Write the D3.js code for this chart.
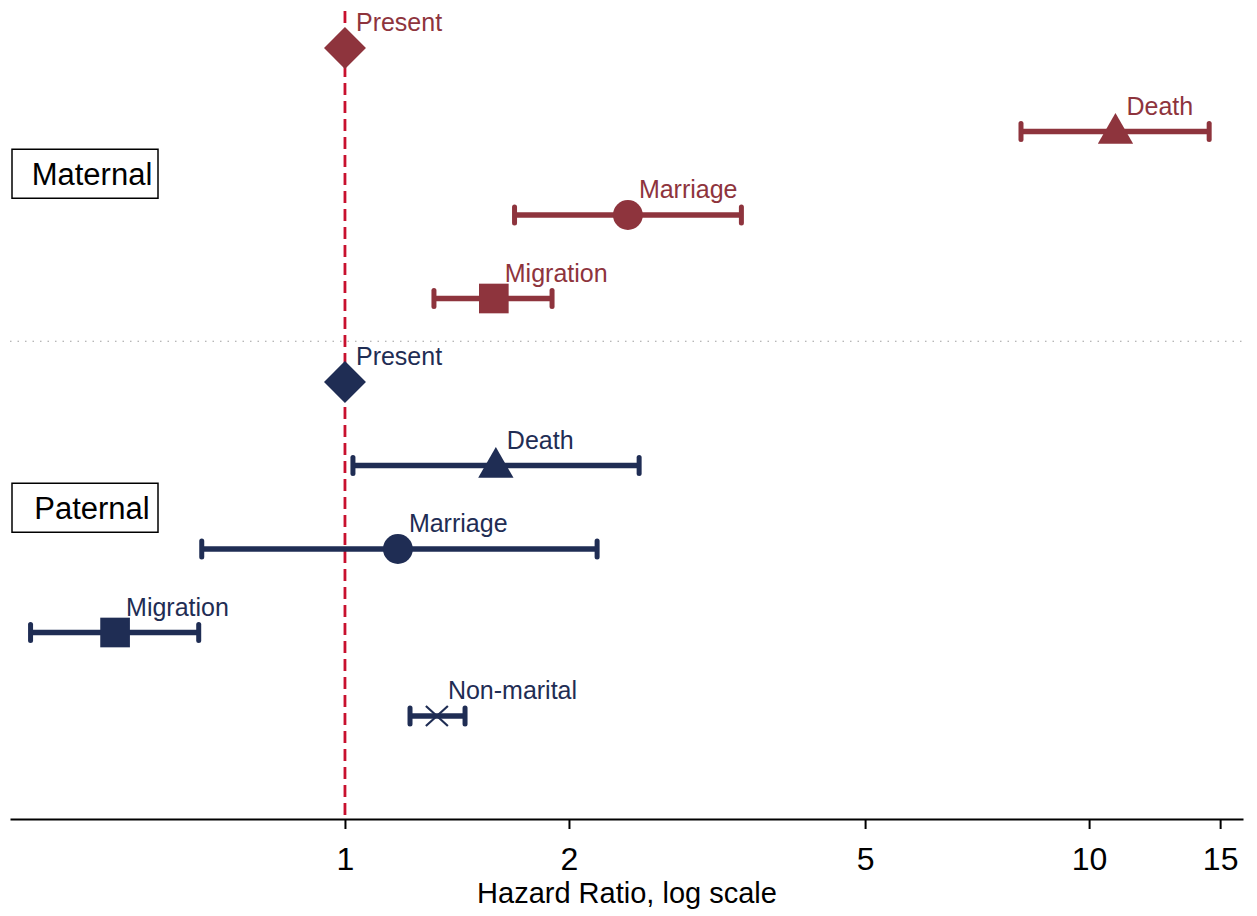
<!DOCTYPE html>
<html>
<head>
<meta charset="utf-8">
<script src="https://cdn.jsdelivr.net/npm/d3@7"></script>
<style>
  html, body { margin: 0; padding: 0; background: #fff; }
  svg { display: block; font-family: "Liberation Sans", Arial, sans-serif; }
</style>
</head>
<body>
<svg id="chart" width="1257" height="916"></svg>
<script>
// Hazard ratios with 95% confidence intervals, by parent and event type
const labels   = ["Present", "Death", "Marriage", "Migration", "Present", "Death", "Marriage", "Migration", "Non-marital"];
const groups   = ["Maternal", "Maternal", "Maternal", "Maternal", "Paternal", "Paternal", "Paternal", "Paternal", "Paternal"];
const shapes   = ["diamond", "triangle", "circle", "square", "diamond", "triangle", "circle", "square", "cross"];
const estimate = [1, 10.85, 2.40, 1.585, 1, 1.595, 1.178, 0.491, 1.329];
const lower    = [null, 8.1, 1.69, 1.317, null, 1.025, 0.642, 0.378, 1.223];
const upper    = [null, 14.5, 3.41, 1.898, null, 2.485, 2.182, 0.636, 1.45];
const rowIndex = [0, 1, 2, 3, 4, 5, 6, 7, 8];
const tickValues = [1, 2, 5, 10, 15];
const groupNames = ["Maternal", "Paternal"];
const groupRows  = [1.5, 5.5];

const colors = { Maternal: "#8e343d", Paternal: "#1f2d54" };

const svg = d3.select("#chart");
const x = d3.scaleLog().domain([0.3547, 16.1]).range([10, 1243]);
const y = d3.scaleLinear().domain([0, 8]).range([48, 716]);
const axisY = 819;

// dotted separator between the two panels
svg.append("line")
  .attr("x1", 10).attr("x2", 1243)
  .attr("y1", y(3.5) + 1).attr("y2", y(3.5) + 1)
  .attr("stroke", "#a0a0a0").attr("stroke-width", 1.2)
  .attr("stroke-dasharray", "1.5,6");

// reference line at HR = 1
svg.append("line")
  .attr("x1", x(1)).attr("x2", x(1))
  .attr("y1", 11).attr("y2", axisY)
  .attr("stroke", "#c8102e").attr("stroke-width", 2.8)
  .attr("stroke-dasharray", "12,6");

// x axis
const axis = d3.axisBottom(x).tickValues(tickValues).tickFormat(d3.format("d")).tickSize(10).tickSizeOuter(0);
const gAxis = svg.append("g").attr("transform", `translate(0,${axisY})`).call(axis);
gAxis.select(".domain").attr("stroke", "#000").attr("stroke-width", 2);
gAxis.selectAll(".tick line").attr("stroke", "#000").attr("stroke-width", 2);
gAxis.selectAll(".tick text").attr("fill", "#000").attr("font-size", 32)
  .attr("font-family", "Liberation Sans, Arial, sans-serif")
  .attr("y", 51).attr("dy", 0);

svg.append("text")
  .attr("x", 627).attr("y", 903)
  .attr("text-anchor", "middle").attr("font-size", 29).attr("fill", "#000")
  .text("Hazard Ratio, log scale");

// group boxes
groupNames.forEach((g, i) => {
  const cy = y(groupRows[i]);
  svg.append("rect")
    .attr("x", 12).attr("y", cy - 24).attr("width", 146).attr("height", 49)
    .attr("fill", "#fff").attr("stroke", "#000").attr("stroke-width", 1.5);
  svg.append("text")
    .attr("x", 92).attr("y", cy + 12)
    .attr("text-anchor", "middle").attr("font-size", 31).attr("fill", "#000")
    .text(g);
});

const data = rowIndex.map(i => ({
  row: i, label: labels[i], group: groups[i], shape: shapes[i],
  est: estimate[i], lo: lower[i], hi: upper[i]
}));

const rows = svg.append("g").selectAll("g").data(data).join("g")
  .attr("transform", d => `translate(0,${y(d.row)})`);

// confidence interval bars with end caps
const ci = rows.filter(d => d.lo != null);
ci.append("line")
  .attr("x1", d => x(d.lo)).attr("x2", d => x(d.hi))
  .attr("y1", 0).attr("y2", 0)
  .attr("stroke", d => colors[d.group]).attr("stroke-width", 5.5);
["lo", "hi"].forEach(k => {
  ci.append("line")
    .attr("x1", d => x(d[k])).attr("x2", d => x(d[k]))
    .attr("y1", -8).attr("y2", 8)
    .attr("stroke", d => colors[d.group]).attr("stroke-width", 5)
    .attr("stroke-linecap", "round");
});

// point markers
const symbolFor = {
  diamond: d3.symbol(d3.symbolSquare, 880),
  triangle: d3.symbol(d3.symbolTriangle, 540),
  circle: d3.symbol(d3.symbolCircle, 700),
  square: d3.symbol(d3.symbolSquare, 880)
};
rows.each(function(d) {
  const g = d3.select(this);
  const c = colors[d.group];
  const px = x(d.est);
  if (d.shape === "cross") {
    g.append("path")
      .attr("d", "M-11,-10L11,10M-11,10L11,-10")
      .attr("transform", `translate(${px},0)`)
      .attr("stroke", c).attr("stroke-width", 2.2).attr("fill", "none");
  } else if (d.shape === "diamond") {
    g.append("path")
      .attr("d", symbolFor.diamond())
      .attr("transform", `translate(${px},0) rotate(45)`)
      .attr("fill", c);
  } else if (d.shape === "triangle") {
    g.append("path")
      .attr("d", symbolFor.triangle())
      .attr("transform", `translate(${px},2)`)
      .attr("fill", c);
  } else {
    g.append("path")
      .attr("d", symbolFor[d.shape]())
      .attr("transform", `translate(${px},0)`)
      .attr("fill", c);
  }
  g.append("text")
    .attr("x", px + 11).attr("y", -17)
    .attr("font-size", 25).attr("fill", c)
    .text(d.label);
});
</script>
</body>
</html>
